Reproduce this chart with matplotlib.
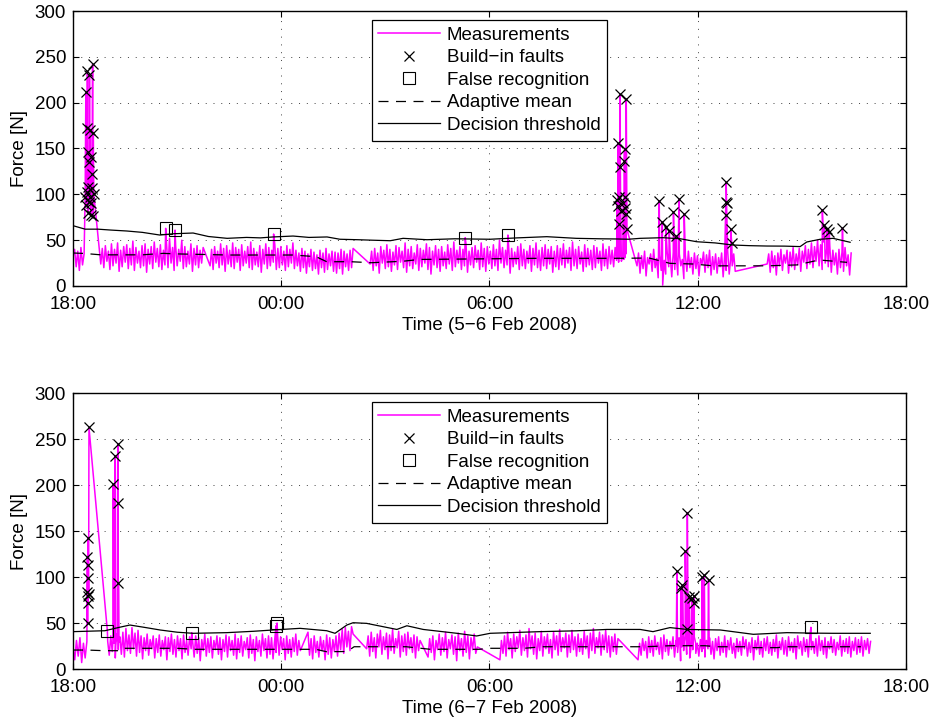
import numpy as np
import matplotlib
matplotlib.use("Agg")
import matplotlib.pyplot as plt

plt.rcParams['font.family'] = ['Liberation Sans', 'DejaVu Sans']
plt.rcParams['font.size'] = 13.5

# ---------------- data (hours after 18:00) ----------------
xtick_pos = [0, 6, 12, 18, 24]
xtick_labels = ["18:00", "00:00", "06:00", "12:00", "18:00"]
yticks = [0, 50, 100, 150, 200, 250, 300]

# ---- top panel (5-6 Feb 2008) ----
top_seg_spans = [(0.0, 0.32), (0.80, 3.75), (3.95, 8.07), (8.56, 15.62), (16.25, 19.08), (20.0, 22.42)]
top_seg1 = [32, 40, 21, 38, 17, 42, 23, 35]
top_seg2a = [24, 41, 20, 44, 27, 38, 18, 46, 22, 40, 25, 47, 16, 39, 21, 43, 26, 45, 19, 41, 23, 49, 17, 42,
             25, 38, 20, 44, 22, 46, 15, 40, 24, 43, 19, 48, 26, 41, 21, 45, 18, 39, 23, 47, 20, 52, 25, 42,
             17, 44, 22, 40, 27, 50, 19, 43, 21, 38, 24, 46, 16, 41, 23, 44, 20, 39, 25, 42]
top_seg2b = [22, 40, 18, 43, 25, 38, 20, 46, 23, 41, 16, 44, 24, 39, 21, 47, 19, 42, 26, 40, 17, 45, 22, 38,
             25, 43, 20, 48, 18, 41, 23, 37, 21, 44, 15, 40, 24, 46, 19, 42, 22, 39, 26, 45, 18, 41, 20, 43,
             23, 38, 17, 44, 21, 40, 25, 47, 19, 39, 22, 36, 16, 41, 20, 38, 14, 35, 21, 40, 17, 37, 19, 34,
             13, 39, 20, 36, 15, 41, 18, 35, 22, 38, 16, 37, 14, 36, 19, 40, 13, 38, 21, 35, 17, 39, 20, 41]
top_seg3 = [24, 38, 17, 41, 22, 36, 14, 43, 25, 39, 19, 45, 21, 40, 16, 37, 23, 44, 18, 42, 26, 38, 20, 47,
            15, 40, 22, 43, 19, 36, 24, 45, 17, 41, 21, 39, 25, 46, 18, 42, 13, 38, 23, 44, 20, 40, 16, 43,
            22, 37, 19, 45, 24, 41, 17, 48, 21, 39, 25, 43, 18, 40, 22, 46, 15, 38, 23, 42, 20, 44, 26, 39,
            18, 47, 21, 41, 16, 43, 24, 38, 19, 45, 22, 40, 17, 50, 25, 42, 20, 39, 23, 44, 14, 41, 21, 37,
            24, 43, 18, 46, 22, 40, 19, 38, 25, 44, 16, 41, 23, 47, 20, 39, 17, 42, 22, 45, 19, 40, 24, 43,
            15, 38, 21, 44, 18, 41, 23, 46, 20, 39, 25, 42, 17, 48, 22, 40, 19, 43, 24, 37, 16, 45, 21, 41,
            23, 39, 18, 44, 20, 42, 25, 38, 17, 46, 22, 40, 19, 43, 24, 39, 21, 42]
top_seg4 = [22, 36, 14, 33, 19, 38, 11, 31, 24, 35, 16, 40, 20, 30, 9, 34, 17, 1, 28, 13, 36, 21, 32, 10,
            37, 18, 33, 12, 35, 22, 29, 8, 34, 16, 38, 20, 31, 13, 36, 19, 33, 11, 30, 24, 37, 15, 34, 20,
            39, 12, 32, 18, 35, 14, 31, 21, 36, 10, 33, 17, 38, 13, 30, 22, 35, 16]
top_seg5 = [24, 35, 15, 38, 20, 33, 12, 36, 22, 40, 17, 34, 25, 39, 14, 37, 21, 42, 18, 35, 23, 41, 16, 38,
            26, 44, 19, 40, 24, 47, 20, 43, 27, 50, 22, 45, 18, 48, 25, 41, 21, 44, 15, 39, 23, 36, 13, 40,
            20, 37, 16, 42, 22, 34, 12, 36]
top_segs = [top_seg1, top_seg2a, top_seg2b, top_seg3, top_seg4, top_seg5]

top_fault_t = [0.35, 0.37, 0.385, 0.395, 0.405, 0.415, 0.425, 0.435, 0.445, 0.455, 0.465, 0.475,
               0.49, 0.50, 0.51, 0.52, 0.53, 0.54, 0.55, 0.565, 0.575, 0.585, 0.60,
               15.68, 15.70, 15.71, 15.73, 15.74, 15.76, 15.77, 15.78, 15.86, 15.88, 15.89, 15.90,
               15.91, 15.92, 15.94, 15.96,
               16.89, 16.98, 17.08, 17.18, 17.30, 17.37, 17.46, 17.61,
               18.80, 18.81, 18.82, 18.83, 18.95, 18.98,
               21.59, 21.65, 21.72, 21.79, 22.17]
top_fault_v = [97, 212, 88, 172, 103, 234, 80, 146, 108, 135, 92, 230,
               97, 170, 77, 141, 90, 107, 122, 242, 76, 167, 100,
               94, 155.6, 87, 67.6, 97, 209, 130, 82, 91, 136, 149, 96.7,
               84.7, 79, 204, 61.8,
               93, 70, 64, 60, 81, 54.5, 95, 78.5,
               77, 92, 113, 90, 62, 46.5,
               83, 66.5, 62, 59, 63]
top_base_t = [15.66, 15.69, 15.72, 15.75, 15.80, 15.84, 15.87, 15.905, 15.93]
top_base_v = [28, 30, 26, 32, 27, 33, 29, 31, 35]
top_false_t = [2.67, 2.94, 5.78, 11.3, 12.53]
top_false_v = [62.9, 61, 56.7, 52.7, 55.6]

top_thr_t = [0.0, 0.35, 0.72, 1.1, 1.55, 2.0, 2.5, 2.9, 3.46, 3.9, 4.44, 5.0, 5.4, 5.76, 6.34, 6.8, 7.32,
             7.69, 8.2, 8.6, 9.14, 9.51, 10.2, 11.0, 12.02, 12.8, 13.65, 14.5, 15.2, 15.67, 16.0, 16.34,
             17.0, 17.5, 17.97, 18.5, 19.02, 19.5, 19.99, 20.5, 20.95, 21.14, 21.53, 21.9, 22.39]
top_thr_v = [65.8, 62, 62, 61, 60, 58.5, 55.6, 57, 57.8, 54, 52, 53, 52.5, 53.5, 54.5, 53, 53.5,
             51, 50.5, 50, 49.4, 52, 50.5, 51.5, 51, 52.5, 53.8, 52, 51.5, 51.3, 51, 52,
             52.7, 51.5, 48.3, 47, 44.7, 44, 43.6, 43.5, 43, 48, 51, 52, 47.7]
top_mean_t = [0.0, 0.33, 0.8, 2.0, 2.6, 3.0, 4.5, 6.35, 7.0, 7.31, 8.0, 8.6, 9.5, 10.0, 11.5, 13.4, 15.6,
              16.6, 17.2, 17.87, 18.44, 20.0, 20.86, 21.5, 22.3]
top_mean_v = [36, 35.5, 34, 34, 35.6, 35, 33.8, 33.8, 32, 26.5, 26.5, 25.4, 27, 29, 29.5, 30.2, 30.2,
              30.5, 24.7, 24, 22, 22, 23, 28.4, 25.8]

# ---- bottom panel (6-7 Feb 2008) ----
bot_seg_spans = [(0.0, 0.40), (1.0, 6.55), (6.77, 8.07), (8.46, 10.0), (10.23, 11.65), (12.3, 15.7),
                 (16.28, 22.98)]
bot_seg1 = [24, 10, 31, 14, 34, 7, 28, 12, 30]
bot_seg2 = [30, 15, 36, 19, 33, 12, 38, 21, 35, 16, 40, 13, 44, 20, 37, 17, 45, 22, 39, 14, 42, 18, 36, 11,
            34, 20, 38, 15, 32, 22, 36, 12, 33, 18, 37, 14, 31, 21, 35, 10, 34, 19, 38, 16, 32, 13, 36, 20,
            33, 11, 37, 18, 31, 15, 35, 22, 30, 13, 36, 17, 34, 9, 32, 20, 38, 14, 33, 18, 35, 12, 31, 21,
            36, 16, 34, 10, 32, 19, 37, 13, 35, 20, 31, 15, 38, 11, 33, 18, 36, 14, 30, 21, 34, 12, 37, 17,
            32, 9, 35, 19, 31, 14, 38, 20, 33, 12, 36, 16, 34, 11, 30, 18, 37, 15, 35, 21, 33, 10, 36, 17,
            32, 13, 34, 19, 38, 15, 31, 20]
bot_seg3 = [40, 15, 33, 11, 36, 18, 30, 13, 35, 20, 31, 10, 37, 16, 34, 12, 32, 19, 36, 14, 39, 21, 43, 17,
            45, 24, 41, 20, 46, 38]
bot_seg4 = [22, 36, 14, 40, 19, 34, 12, 38, 24, 42, 16, 35, 21, 39, 11, 37, 20, 43, 17, 33, 23, 41, 13, 36,
            19, 38, 15, 40, 22, 34, 18, 37, 12, 35, 20, 31]
bot_seg5 = [13, 33, 18, 36, 10, 31, 21, 38, 15, 34, 19, 40, 12, 32, 22, 37, 16, 35, 9, 39, 20, 33, 14, 41,
            18, 36, 11, 34, 21, 38, 17, 24]
bot_seg6 = [10, 31, 17, 36, 14, 40, 21, 33, 12, 38, 19, 35, 23, 42, 15, 34, 20, 37, 13, 44, 22, 36, 16, 39,
            11, 33, 20, 41, 14, 35, 22, 38, 17, 32, 12, 40, 21, 36, 15, 43, 19, 34, 23, 39, 13, 37, 18, 42,
            21, 35, 14, 38, 19, 33, 16, 41, 22, 36, 12, 39, 20, 44, 17, 34, 23, 40, 15, 37, 21, 42, 18, 36,
            13, 35, 19, 38, 16, 33]
bot_seg7 = [10, 28, 15, 33, 20, 30, 12, 35, 18, 31, 14, 36, 21, 29, 16, 34, 11, 37, 19, 32, 15, 30, 22, 35,
            13, 31, 18, 34, 9, 29, 20, 36, 16, 33, 12, 30, 21, 35, 17, 28, 14, 32, 19, 37, 13, 31, 22, 34,
            16, 30, 11, 33, 20, 35, 15, 29, 18, 36, 13, 31, 21, 34, 17, 28, 12, 33, 19, 30, 15, 35, 22, 32,
            14, 29, 18, 34, 10, 31, 21, 36, 16, 30, 13, 33, 20, 35, 17, 29, 15, 32, 19, 37, 12, 30, 21, 34,
            16, 31, 14, 35, 20, 29, 18, 33, 11, 36, 22, 30, 15, 34, 19, 32, 13, 35, 21, 30, 17, 33, 14, 36,
            20, 31, 16, 34, 12, 30, 22, 35, 18, 32, 15, 29, 21, 36, 14, 31, 19, 33, 17, 35, 13, 30, 20, 34,
            16, 32, 18, 35, 14, 31, 21, 33, 17, 30]
bot_segs = [bot_seg1, bot_seg2, bot_seg3, bot_seg4, bot_seg5, bot_seg6, bot_seg7]

bot_fault_t = [0.41, 0.415, 0.42, 0.425, 0.43, 0.435, 0.44, 0.445, 0.45, 0.46,
               1.16, 1.21, 1.29, 1.30, 1.31,
               17.40, 17.51, 17.56, 17.64, 17.69, 17.70, 17.76, 17.83, 17.88, 17.90, 18.12, 18.19, 18.31]
bot_fault_v = [84, 122, 50, 113, 72, 142, 79, 98.6, 82, 262.7,
               201, 232, 245, 180, 94,
               106, 88, 91, 128, 43, 170, 78.6, 76.8, 72, 79.3, 99.6, 102, 96.7]
bot_base_t = [1.15, 1.18, 1.20, 1.23, 1.27, 1.295, 1.305, 1.32,
              17.38, 17.43, 17.49, 17.54, 17.60, 17.67, 17.73, 17.80, 17.86, 17.94, 18.10, 18.15, 18.22,
              18.33]
bot_base_v = [30, 28, 33, 25, 31, 35, 27, 29,
              25, 22, 28, 24, 27, 23, 26, 21, 25, 28, 24, 22, 27, 25]
bot_false_t = [0.99, 3.42, 5.85, 5.88, 21.26]
bot_false_v = [41.6, 39.5, 47, 50, 45.3]

bot_thr_t = [0.0, 0.92, 1.3, 1.64, 2.1, 2.51, 3.0, 3.46, 4.43, 5.2, 5.76, 6.54, 7.31, 7.55, 7.89, 8.07,
             8.46, 9.33, 9.62, 10.09, 11.06, 11.63, 12.02, 13.46, 14.5, 15.38, 16.34, 16.71, 17.2, 17.69,
             18.65, 19.6, 20.57, 21.3, 21.9, 22.97]
bot_thr_v = [40.6, 41.6, 45, 47.8, 45, 42.4, 40, 38.8, 39.5, 41, 42.4, 44.2, 41.6, 38.8, 47.8, 50.3,
             49.6, 43, 47, 43, 38.8, 35.9, 38.8, 40.6, 41.5, 43, 43, 40.6, 45, 43,
             42.4, 37.7, 39.5, 39, 38.8, 38.8]
bot_mean_t = [0.0, 0.4, 0.9, 1.4, 1.5, 3.0, 3.5, 7.0, 7.3, 7.9, 8.1, 9.6, 10.3, 11.7, 12.0, 13.0, 13.5,
              16.5, 17.2, 18.2, 18.6, 19.4, 19.6, 20.3, 20.5, 22.7]
bot_mean_v = [20.6, 20.6, 19.9, 19.9, 22.5, 22.5, 21.4, 21.4, 18.8, 19, 24.2, 24.2, 21.4, 21.4, 22.5, 22.5,
              24.2, 24.2, 25.3, 25.3, 24.2, 24.2, 23.2, 23.2, 24.2, 24.2]

legend_labels = ["Measurements", "Build\u2212in faults", "False recognition", "Adaptive mean",
                 "Decision threshold"]


def draw(ax, spans, segs, fault_t, fault_v, base_t, base_v, false_t, false_v,
         thr_t, thr_v, mean_t, mean_v, xlabel):
    ts = [np.linspace(a, b, len(vals)) for (a, b), vals in zip(spans, segs)]
    vs = [np.asarray(vals, float) for vals in segs]
    t_all = np.concatenate(ts + [np.asarray(fault_t), np.asarray(base_t), np.asarray(false_t)])
    v_all = np.concatenate(vs + [np.asarray(fault_v, float), np.asarray(base_v, float),
                                 np.asarray(false_v, float)])
    order = np.argsort(t_all, kind="stable")
    h_meas, = ax.plot(t_all[order], v_all[order], color="#ff00ff", lw=1.1, zorder=2)
    h_thr, = ax.plot(thr_t, thr_v, color="black", lw=0.9, zorder=3)
    h_mean, = ax.plot(mean_t, mean_v, color="black", lw=0.9, zorder=3)
    h_mean.set_dashes((8, 6))
    h_fault, = ax.plot(fault_t, fault_v, ls="none", marker="x", ms=7, mew=0.9, color="black", zorder=4)
    h_false, = ax.plot(false_t, false_v, ls="none", marker="s", ms=8, mew=0.8, mfc="none",
                       mec="black", zorder=4)

    ax.set_xlim(0, 24)
    ax.set_ylim(0, 300)
    ax.set_xticks(xtick_pos)
    ax.set_xticklabels(xtick_labels)
    ax.set_yticks(yticks)
    ax.tick_params(direction="in", top=True, right=True, length=4.5, width=0.8)
    ax.tick_params(axis="x", pad=7)
    ax.tick_params(axis="y", pad=5)
    ax.grid(True, color="0.25", linestyle=(0, (1, 7)), lw=0.7)
    for s in ax.spines.values():
        s.set_linewidth(1.0)
    ax.set_ylabel("Force [N]", labelpad=5)
    ax.set_xlabel(xlabel, labelpad=3)
    leg = ax.legend([h_meas, h_fault, h_false, h_mean, h_thr], legend_labels,
                    loc="upper center", bbox_to_anchor=(0.5, 1 - 9 / 275), borderaxespad=0,
                    fancybox=False, framealpha=1, edgecolor="black", numpoints=1,
                    handlelength=3.3, handletextpad=0.35, labelspacing=0.29, borderpad=0.35,
                    fontsize=13.5)
    leg.get_frame().set_linewidth(0.9)


fig = plt.figure(figsize=(9.31, 7.2), dpi=100)
ax1 = fig.add_axes([73 / 931, 1 - 286 / 720, 833 / 931, 275 / 720])
ax2 = fig.add_axes([73 / 931, 1 - 669 / 720, 833 / 931, 276 / 720])

draw(ax1, top_seg_spans, top_segs, top_fault_t, top_fault_v, top_base_t, top_base_v,
     top_false_t, top_false_v, top_thr_t, top_thr_v, top_mean_t, top_mean_v,
     "Time (5\u22126 Feb 2008)")
draw(ax2, bot_seg_spans, bot_segs, bot_fault_t, bot_fault_v, bot_base_t, bot_base_v,
     bot_false_t, bot_false_v, bot_thr_t, bot_thr_v, bot_mean_t, bot_mean_v,
     "Time (6\u22127 Feb 2008)")

fig.savefig("out.png", dpi=100)
